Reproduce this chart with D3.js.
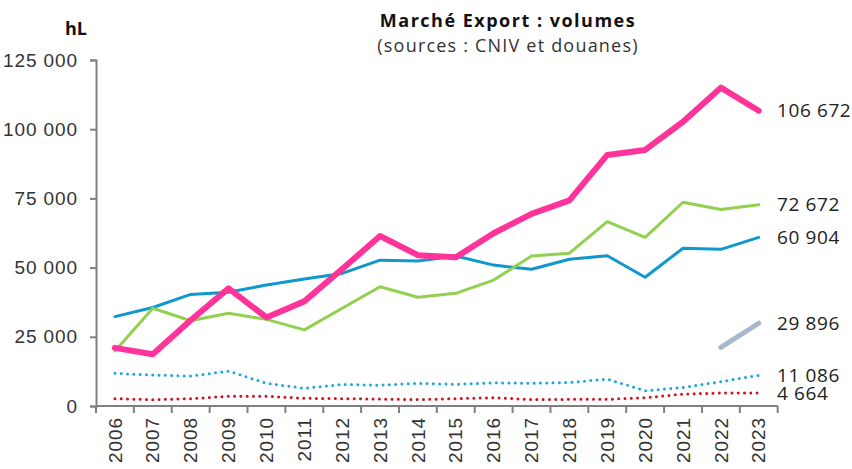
<html>
<head>
<meta charset="utf-8" />
<title>Marché Export : volumes</title>
<script src="https://cdn.jsdelivr.net/npm/d3@7"></script>
<style>
	body { margin: 0; background: #fff; }
	svg { display: block; font-family: "Open Sans", "Noto Sans", sans-serif; }
	.axis path, .axis line { stroke: #808080; stroke-width: 2px; }
	.axis text { fill: #333; font-size: 19px; letter-spacing: 0.9px; }
</style>
</head>
<body>
<svg width="852" height="469"></svg>
<script>
// years on the x axis
const years = ['2006', '2007', '2008', '2009', '2010', '2011', '2012', '2013', '2014', '2015',
	'2016', '2017', '2018', '2019', '2020', '2021', '2022', '2023'];

// volumes in hL
const pink = [21000, 18700, 31000, 42500, 32000, 37800, 49500, 61400, 54500, 53700,
	62400, 69400, 74300, 90700, 92500, 102700, 115000, 106672];
const green = [19900, 35300, 30800, 33500, 31300, 27500, 35300, 43100, 39300, 40700,
	45500, 54200, 55200, 66600, 60900, 73600, 71000, 72672];
const blue = [32300, 35600, 40300, 41100, 43700, 45900, 47900, 52700, 52400, 54200,
	50900, 49400, 53000, 54300, 46500, 57000, 56600, 60904];
const greyBlue = [null, null, null, null, null, null, null, null, null, null,
	null, null, null, null, null, null, 21200, 29896];
const dotBlue = [11800, 11200, 10800, 12600, 8200, 6400, 7800, 7500, 8200, 7800,
	8400, 8200, 8500, 9700, 5500, 6700, 8800, 11086];
const dotRed = [2650, 2300, 2650, 3500, 3500, 2800, 2650, 2500, 2300, 2650,
	3000, 2300, 2400, 2400, 3000, 4300, 4700, 4664];

const yTicks = [0, 25000, 50000, 75000, 100000, 125000];
const endLabels = ['106 672', '72 672', '60 904', '29 896', '11 086', '4 664'];

window.onload = function() {
	const svg = d3.select('svg');

	// l'échelle des années, une bande par année
	const xScale = d3.scaleBand().domain(years).range([96, 777.7]);
	const yScale = d3.scaleLinear().domain([0, 125000]).range([406, 60]);

	const fmt = (v) => d3.format(',')(v).replace(/,/g, ' ');

	const yAxis = d3.axisLeft(yScale).tickValues(yTicks).tickSize(6).tickPadding(12)
		.tickFormat(fmt);
	svg.append('g').attr('class', 'axis').attr('transform', 'translate(96, 0)').call(yAxis);

	// x axis: ticks between the bands
	const xAxis = d3.axisBottom(xScale).tickSize(0).tickPadding(0);
	const gx = svg.append('g').attr('class', 'axis').attr('transform', 'translate(0, 406)').call(xAxis);
	gx.select('path.domain').attr('d', 'M96,0H777.7');
	gx.selectAll('.tick line').remove();
	gx.selectAll('line.sep')
		.data(d3.range(years.length + 1)).enter()
		.append('line')
		.attr('class', 'sep')
		.attr('x1', (i) => 96 + i * xScale.step())
		.attr('x2', (i) => 96 + i * xScale.step())
		.attr('y1', 0)
		.attr('y2', 7);
	gx.selectAll('.tick text')
		.attr('transform', 'rotate(-90)')
		.attr('text-anchor', 'end')
		.attr('x', -11)
		.attr('y', 0)
		.attr('dy', '0.35em');

	const series = [
		{ values: dotRed, color: '#D2101E', width: 3, dash: '0 6.3' },
		{ values: dotBlue, color: '#1AA7DE', width: 3, dash: '0 6.3' },
		{ values: greyBlue, color: '#A8B7CB', width: 5, dash: null },
		{ values: blue, color: '#0E98CE', width: 3, dash: null },
		{ values: green, color: '#92D050', width: 3, dash: null },
		{ values: pink, color: '#FF3399', width: 6, dash: null }
	];

	const line = d3.line()
		.defined((d) => d != null)
		.x((d, i) => xScale(years[i]) + xScale.bandwidth() / 2)
		.y((d) => yScale(d));

	series.forEach((s) => {
		svg.append('path')
			.attr('d', line(s.values))
			.style('fill', 'none')
			.style('stroke', s.color)
			.style('stroke-width', s.width + 'px')
			.style('stroke-linecap', 'round')
			.style('stroke-linejoin', 'round')
			.style('stroke-dasharray', s.dash);
	});

	// valeurs de fin de série
	const ends = [pink, green, blue, greyBlue, dotBlue, dotRed];
	svg.selectAll('text.end')
		.data(ends).enter()
		.append('text')
		.attr('class', 'end')
		.attr('x', 777)
		.attr('y', (d) => yScale(d[d.length - 1]))
		.attr('dy', '0.35em')
		.style('font-size', '19px')
		.style('letter-spacing', '0.6px')
		.style('fill', '#222')
		.text((d, i) => endLabels[i]);

	svg.append('text')
		.attr('x', 87).attr('y', 35)
		.attr('text-anchor', 'end')
		.style('font-size', '18px').style('font-weight', 'bold').style('fill', '#111')
		.text('hL');

	svg.append('text')
		.attr('x', 508).attr('y', 27)
		.attr('text-anchor', 'middle')
		.style('font-size', '18px').style('font-weight', 'bold').style('fill', '#111')
		.style('letter-spacing', '1.5px')
		.text('Marché Export : volumes');

	svg.append('text')
		.attr('x', 508).attr('y', 52)
		.attr('text-anchor', 'middle')
		.style('font-size', '18px').style('fill', '#333')
		.style('letter-spacing', '1.2px')
		.text('(sources : CNIV et douanes)');
};
</script>
</body>
</html>
